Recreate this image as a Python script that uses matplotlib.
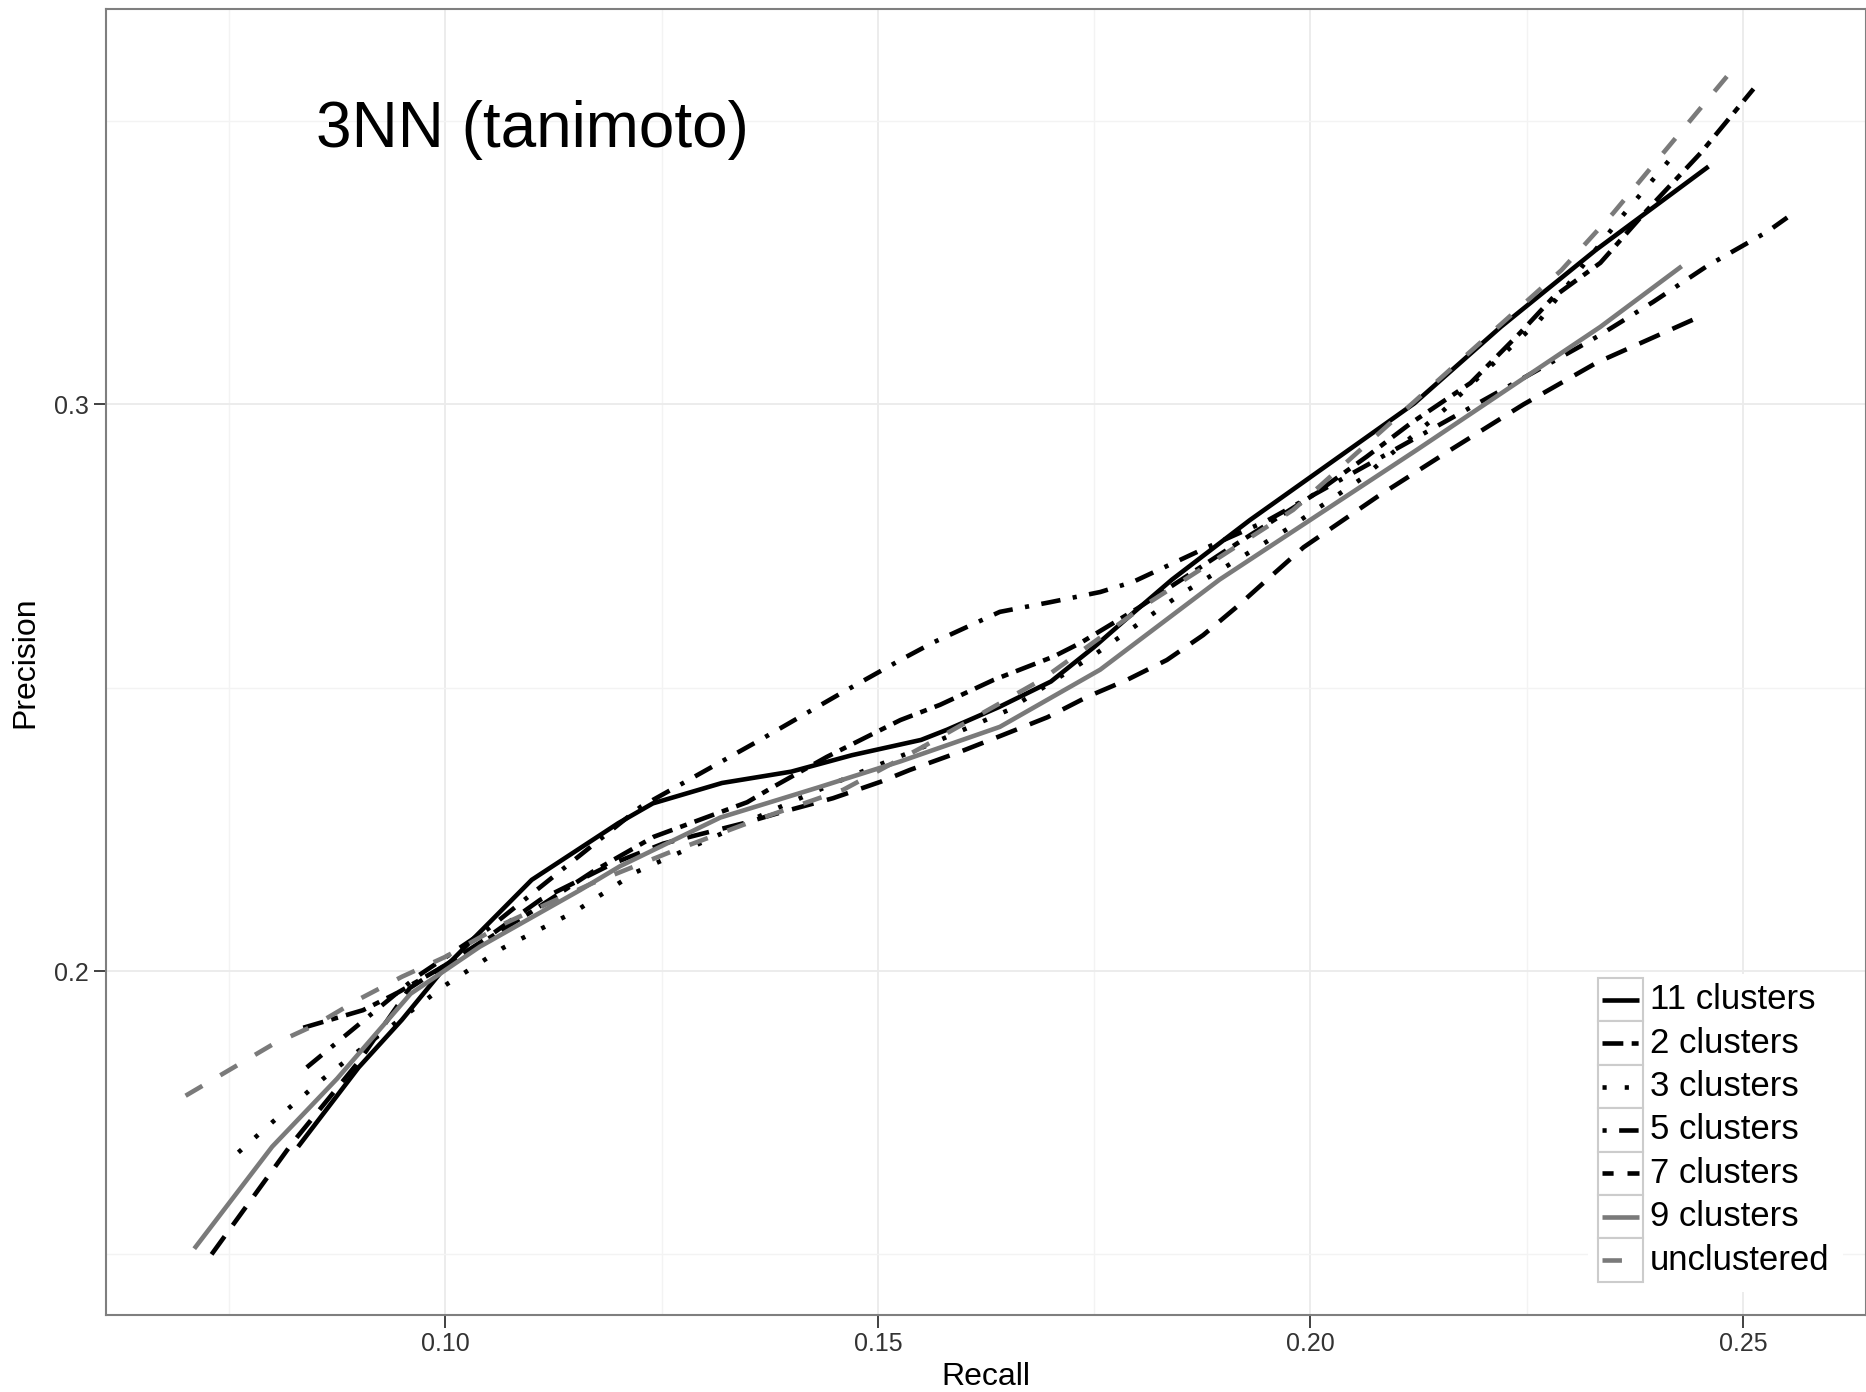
import matplotlib
matplotlib.use("Agg")
import matplotlib.pyplot as plt
from matplotlib.lines import Line2D
from matplotlib.patches import Rectangle

# curves (recall, precision)
recall_11 = [0.083, 0.090, 0.095, 0.100, 0.110, 0.120, 0.124, 0.132, 0.140, 0.147, 0.155, 0.158,
             0.164, 0.170, 0.175, 0.1795, 0.184, 0.193, 0.212, 0.222, 0.233, 0.246]
prec_11 = [0.169, 0.183, 0.1914, 0.2007, 0.2161, 0.2261, 0.2296, 0.2332, 0.2352, 0.2381, 0.2408, 0.2426,
           0.2466, 0.2511, 0.2572, 0.2632, 0.2691, 0.2796, 0.3002, 0.3137, 0.3273, 0.342]

recall_2 = [0.0836, 0.0905, 0.0944, 0.100, 0.110, 0.117, 0.1241, 0.1349, 0.1379, 0.1441, 0.1526, 0.1572,
            0.1634, 0.1703, 0.1734, 0.180, 0.190, 0.200, 0.2065, 0.2116, 0.2185, 0.2242, 0.2281, 0.2335,
            0.2389, 0.2451, 0.2512]
prec_2 = [0.190, 0.1931, 0.1961, 0.201, 0.2105, 0.2175, 0.2237, 0.2298, 0.2325, 0.2378, 0.2443, 0.247,
          0.2514, 0.2555, 0.2579, 0.264, 0.274, 0.2837, 0.2908, 0.2967, 0.3038, 0.3126, 0.319, 0.325,
          0.3343, 0.3444, 0.3557]

recall_3 = [0.0761, 0.080, 0.0859, 0.0898, 0.100, 0.1067, 0.115, 0.1221, 0.1294, 0.138, 0.147, 0.156,
            0.165, 0.175, 0.185, 0.1973, 0.2058, 0.2154, 0.2265, 0.236, 0.2425]
prec_3 = [0.168, 0.1733, 0.181, 0.1857, 0.1975, 0.2041, 0.2105, 0.2175, 0.2225, 0.2285, 0.2345, 0.2400,
          0.246, 0.2558, 0.2665, 0.278, 0.2868, 0.299, 0.3149, 0.3332, 0.345]

recall_5 = [0.084, 0.0967, 0.105, 0.114, 0.1226, 0.1364, 0.1457, 0.1526, 0.1564, 0.1641, 0.1699, 0.1757,
            0.1795, 0.1875, 0.195, 0.205, 0.215, 0.2311, 0.2335, 0.2396, 0.2458, 0.2528, 0.2551]
prec_5 = [0.183, 0.199, 0.2075, 0.2185, 0.229, 0.2408, 0.249, 0.2549, 0.258, 0.2634, 0.2651, 0.2669,
          0.2687, 0.2744, 0.2795, 0.288, 0.2965, 0.3102, 0.3123, 0.3181, 0.3244, 0.3305, 0.333]

recall_7 = [0.073, 0.0823, 0.090, 0.0959, 0.104, 0.111, 0.1194, 0.1252, 0.1345, 0.139, 0.1448, 0.1503,
            0.1537, 0.1595, 0.1645, 0.1696, 0.1742, 0.1788, 0.1834, 0.1876, 0.1915, 0.195, 0.1992, 0.2077,
            0.2162, 0.2246, 0.2331, 0.2447]
prec_7 = [0.150, 0.1696, 0.184, 0.197, 0.205, 0.2126, 0.219, 0.2225, 0.2261, 0.2281, 0.2305, 0.2334,
          0.2355, 0.2387, 0.2417, 0.2448, 0.2484, 0.2514, 0.2549, 0.2593, 0.2643, 0.2691, 0.2748, 0.2837,
          0.292, 0.300, 0.3074, 0.3153]

recall_9 = [0.071, 0.080, 0.0875, 0.096, 0.104, 0.1156, 0.1202, 0.1318, 0.1433, 0.1526, 0.1641, 0.1757,
            0.1895, 0.2123, 0.2335, 0.2429]
prec_9 = [0.151, 0.169, 0.181, 0.196, 0.2043, 0.2143, 0.2185, 0.2271, 0.2325, 0.237, 0.2431, 0.2532,
          0.2691, 0.292, 0.3137, 0.3244]

recall_u = [0.070, 0.075, 0.080, 0.085, 0.090, 0.095, 0.100, 0.107, 0.117, 0.126, 0.136, 0.146, 0.155,
            0.169, 0.181, 0.198, 0.229, 0.235, 0.249]
prec_u = [0.178, 0.1825, 0.187, 0.1905, 0.195, 0.199, 0.2025, 0.2085, 0.2155, 0.221, 0.2267, 0.232, 0.2394,
          0.2515, 0.2647, 0.2814, 0.3237, 0.3338, 0.3595]

labels = ["11 clusters", "2 clusters", "3 clusters", "5 clusters", "7 clusters", "9 clusters", "unclustered"]
x_ticks = [0.10, 0.15, 0.20, 0.25]
y_ticks = [0.2, 0.3]

plt.rcParams['font.family'] = ['Liberation Sans', 'DejaVu Sans']
plt.rcParams['lines.scale_dashes'] = False

if __name__ == "__main__":
    W, H = 1866, 1392
    fig = plt.figure(figsize=(W / 100, H / 100), dpi=100)
    ax = fig.add_axes([106 / W, 77 / H, (W - 106) / W, (1383 - 77) / H])

    series = [(recall_11, prec_11), (recall_2, prec_2), (recall_3, prec_3), (recall_5, prec_5),
              (recall_7, prec_7), (recall_9, prec_9), (recall_u, prec_u)]
    colours = ['black', 'black', 'black', 'black', 'black', '#7a7a7a', '#7a7a7a']
    dashes = [None, (15, 6, 5, 6), (3, 13), (14, 9, 3, 9), (16, 10), None, (14, 15)]
    # where the pattern starts inside the small legend keys
    key_offsets = [0, 0, 0, 23, 8, 0, 0]
    lw = 3.3

    for (x, y), c, d in zip(series, colours, dashes):
        line, = ax.plot(x, y, color=c, lw=lw, solid_capstyle='butt', dash_capstyle='butt')
        if d is not None:
            line.set_dashes(d)

    ax.set_xlim(0.0608, 0.2642)
    ax.set_ylim(0.1393, 0.3698)
    ax.set_xticks(x_ticks)
    ax.set_xticklabels(["%.2f" % v for v in x_ticks])
    ax.set_yticks(y_ticks)
    ax.set_yticklabels(["%.1f" % v for v in y_ticks])
    ax.set_xticks([0.075, 0.125, 0.175, 0.225], minor=True)
    ax.set_yticks([0.15, 0.25, 0.35], minor=True)
    ax.grid(which='major', color='#ebebeb', lw=1.3)
    ax.grid(which='minor', color='#f3f3f3', lw=1.0)
    ax.set_axisbelow(True)
    ax.tick_params(which='major', length=9, width=1.3, color='#333333', labelsize=18, labelcolor='#333333')
    ax.tick_params(which='minor', length=0)
    for s in ax.spines.values():
        s.set_color('#7f7f7f')
        s.set_linewidth(1.5)

    ax.set_xlabel('Recall', fontsize=23, labelpad=4)
    ax.set_ylabel('Precision', fontsize=23, labelpad=10)

    ax.text(0.0851, 0.3484, "3NN (tanimoto)", fontsize=46, va='center', ha='left')

    # legend drawn by hand, ggplot style
    def fx(px):
        return px / W

    def fy(py):
        return 1 - py / H

    fig.add_artist(Rectangle((fx(1588), fy(1292)), fx(255), 318 / H, transform=fig.transFigure,
                             facecolor='white', edgecolor='none', zorder=5))
    row_h = 43.4
    for i, (lab, c, d) in enumerate(zip(labels, colours, dashes)):
        top = 978 + i * row_h
        fig.add_artist(Rectangle((fx(1598), fy(top + row_h)), fx(45), row_h / H, transform=fig.transFigure,
                                 facecolor='white', edgecolor='#cccccc', lw=1.5, zorder=6))
        mid = top + row_h / 2
        key = Line2D([fx(1602), fx(1639)], [fy(mid), fy(mid)], transform=fig.transFigure,
                     color=c, lw=lw, solid_capstyle='butt', dash_capstyle='butt', zorder=7)
        if d is not None:
            key.set_linestyle((key_offsets[i], d))
        fig.add_artist(key)
        fig.text(fx(1650), fy(mid), lab, fontsize=25, va='center', ha='left', zorder=7)

    fig.savefig('out.png', dpi=100)
